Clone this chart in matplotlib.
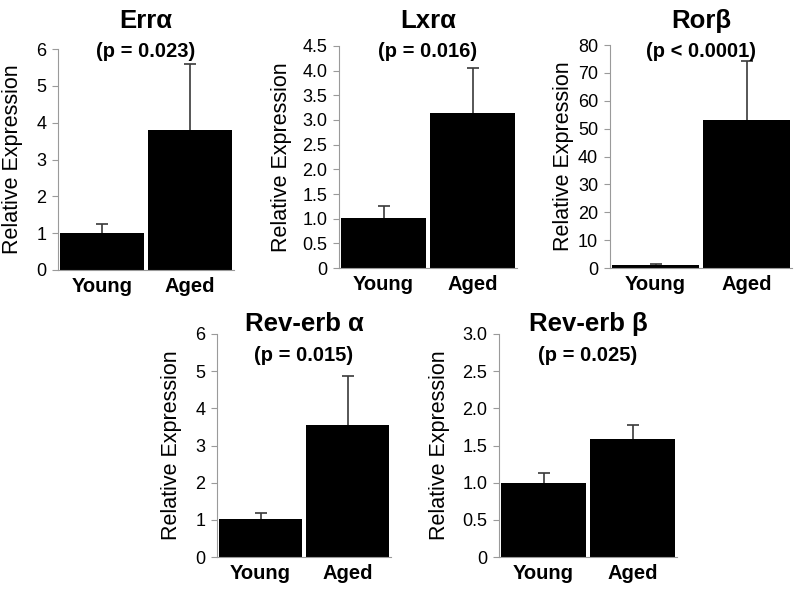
#!/usr/bin/env python3
"""
Nuclear receptor expression, young vs aged
"""

import matplotlib
matplotlib.use("Agg")
import matplotlib.pyplot as plt
from matplotlib import rcParams
from matplotlib.ticker import MultipleLocator, FuncFormatter

groups = ["Young", "Aged"]

genes = ["Errα", "Lxrα", "Rorβ", "Rev-erb α", "Rev-erb β"]
p_labels = ["(p = 0.023)", "(p = 0.016)", "(p < 0.0001)", "(p = 0.015)", "(p = 0.025)"]

err_alpha_mean = [1.0, 3.79]
err_alpha_sem = [0.24, 1.80]

lxr_alpha_mean = [1.01, 3.14]
lxr_alpha_sem = [0.25, 0.91]

ror_beta_mean = [1.0, 53.1]
ror_beta_sem = [0.6, 21.3]

reverb_alpha_mean = [1.01, 3.56]
reverb_alpha_sem = [0.17, 1.31]

reverb_beta_mean = [1.0, 1.59]
reverb_beta_sem = [0.13, 0.19]

means = [err_alpha_mean, lxr_alpha_mean, ror_beta_mean, reverb_alpha_mean, reverb_beta_mean]
sems = [err_alpha_sem, lxr_alpha_sem, ror_beta_sem, reverb_alpha_sem, reverb_beta_sem]

# y axis (max, step) per panel
y_axes = [(6, 1), (4.5, 0.5), (80, 10), (6, 1), (3.0, 0.5)]

W, H = 800, 589

# axes boxes in pixels: left, top, right, bottom
PANELS = [
    (58, 49, 234, 270),
    (339, 46, 517, 268),
    (610, 45, 792, 268),
    (217, 334, 391, 557),
    (499, 334, 677, 557),
]
# baselines of gene name / p value (pixels from top)
TITLE_Y = [(28, 57), (28, 57), (28, 57), (331, 361), (331, 361)]
# right edge of the rotated y label (pixels)
YLABEL_X = [23, 292, 574, 182, 450]

AXIS_GRAY = "#9a9a9a"


def fy(px):
    return 1 - px / H


def draw_panel(fig, i):
    left, top, right, bottom = PANELS[i]
    ax = fig.add_axes([left / W, fy(bottom), (right - left) / W, (bottom - top) / H])

    ymax, step = y_axes[i]
    x = range(len(groups))
    ax.bar(x, means[i], width=0.955, color="black", zorder=2)
    # upper error only
    _, caps, _ = ax.errorbar(
        x, means[i],
        yerr=[[0] * len(groups), sems[i]],
        fmt="none", ecolor="#3a3a3a", elinewidth=1.2, capsize=4.5, capthick=1.2,
        zorder=1,
    )
    if caps:
        caps[0].set_visible(False)

    ax.set_xlim(-0.5, 1.5)
    ax.set_ylim(0, ymax)
    ax.yaxis.set_major_locator(MultipleLocator(step))
    if step < 1:
        ax.yaxis.set_major_formatter(FuncFormatter(lambda v, _: "0" if v == 0 else f"{v:.1f}"))
    else:
        ax.yaxis.set_major_formatter(FuncFormatter(lambda v, _: f"{v:.0f}"))

    ax.set_xticks(list(x))
    ax.set_xticklabels(groups, fontweight="bold", fontsize=14.5)
    ax.tick_params(axis="x", length=0, pad=5)
    ax.tick_params(axis="y", length=4.5, width=0.8, color=AXIS_GRAY, labelsize=13, pad=4)

    for s in ["top", "right"]:
        ax.spines[s].set_visible(False)
    for s in ["left", "bottom"]:
        ax.spines[s].set_color(AXIS_GRAY)
        ax.spines[s].set_linewidth(0.8)

    ax.set_ylabel("Relative Expression", fontsize=15.5)
    ax.yaxis.set_label_coords((YLABEL_X[i] - left) / (right - left), 0.5)

    cx = (left + right) / 2 / W
    ty, py = TITLE_Y[i]
    fig.text(cx, fy(ty), genes[i], ha="center", va="baseline",
             fontsize=18.5, fontweight="bold")
    fig.text(cx, fy(py), p_labels[i], ha="center", va="baseline",
             fontsize=14.5, fontweight="bold")


def main():
    rcParams.update({
        "font.family": ["Liberation Sans", "DejaVu Sans"],
        "font.size": 12,
        "savefig.dpi": 100,
        "figure.dpi": 100,
    })

    fig = plt.figure(figsize=(W / 100, H / 100))
    for i in range(len(genes)):
        draw_panel(fig, i)

    fig.savefig("out.png", dpi=100, facecolor="white")


if __name__ == "__main__":
    main()
